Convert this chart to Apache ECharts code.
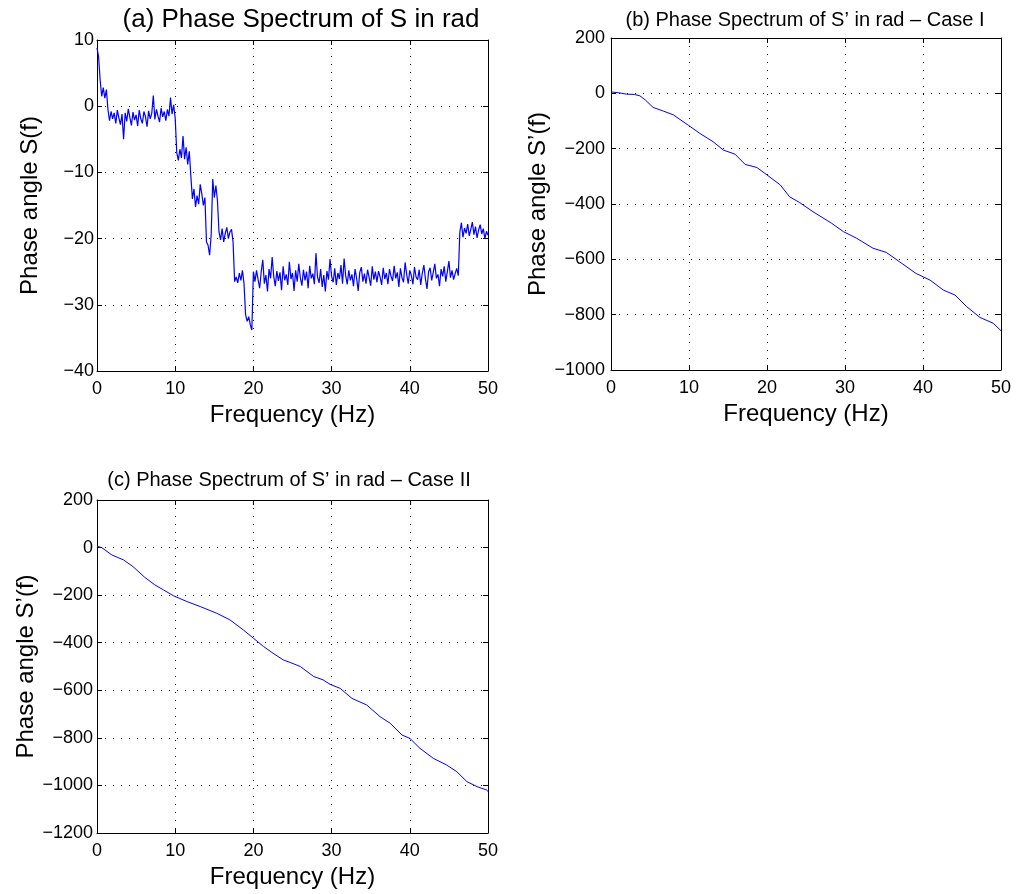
<!DOCTYPE html>
<html><head><meta charset="utf-8">
<script src="https://cdn.jsdelivr.net/npm/echarts@6/dist/echarts.min.js"></script>
<style>html,body{margin:0;padding:0;background:#fff}#c{width:1019px;height:894px}</style>
</head><body><div id="c"></div>
<script>
// (a) phase of S, sampled every 0.2 Hz from 0 to 50 Hz
const freqStepA = 0.2;
const phaseA = [
  8.8, 7.5, 4.0, 1.5, 2.8, 1.2, 2.5,
  -0.5, -2.2, -0.8, -1.9, -1.0, -2.6, -0.6, -1.8, -2.8, -1.2,
  -5.0, -1.0, -2.3, -0.4, -1.7, -2.9, -0.9, -2.1, -1.3, -3.0,
  -0.6, -1.9, -2.6, -0.8, -1.6, -3.1, -0.7, -1.9, -1.1, 1.6,
  -2.0, -0.5, -1.5, -2.4, -0.3, -1.6, -0.8, -2.2, -0.5, -1.5,
  1.3, -1.2, 0.2, -1.8,
  -7.0, -8.2, -6.5, -7.8, -4.5, -8.0, -6.2, -8.8, -6.8, -10.5,
  -14.0, -12.5, -15.2, -13.5, -14.8, -11.8, -13.2, -15.0, -13.8, -20.5,
  -21.0, -22.5, -19.5, -11.0, -13.8, -12.0, -14.2, -19.0, -20.2, -18.5,
  -20.5, -19.2, -18.3, -20.0, -19.0, -18.6, -20.5, -26.5, -25.8, -26.7,
  -25.2, -26.3, -24.8, -26.8, -31.5, -32.5, -31.8, -33.0, -33.8, -25.0,
  -26.5, -24.8, -26.2, -27.5, -25.0, -23.2, -26.8, -25.5, -28.0, -24.6,
  -26.0, -22.8, -25.7, -27.2, -24.9, -26.4, -25.1, -27.8, -24.2, -26.3,
  -25.4, -27.0, -23.5, -26.1, -25.2, -27.9, -24.8, -26.5, -23.8, -25.9,
  -27.1, -24.7, -26.3, -25.0, -27.5, -24.1, -26.0, -25.3, -26.9, -22.2,
  -25.8, -26.7, -24.6, -27.3, -25.5, -28.0, -24.9, -26.2, -23.1, -25.7,
  -26.6, -24.5, -27.0, -25.2, -26.1, -24.0, -26.8, -23.0, -25.6, -26.9,
  -24.8, -26.3, -25.4, -27.2, -24.6, -26.0, -27.9, -25.1, -24.3, -26.5,
  -25.3, -26.8, -24.7, -25.9, -27.1, -24.2, -26.2, -25.0, -26.6, -24.9,
  -25.8, -27.0, -24.4, -26.1, -25.2, -26.9, -24.6, -25.7, -26.4, -24.1,
  -26.0, -25.1, -27.3, -24.5, -25.9, -26.6, -23.6, -25.4, -26.8, -24.8,
  -25.6, -26.9, -24.3, -25.8, -26.2, -24.7, -27.0, -25.2, -24.0, -26.1,
  -27.6, -25.0, -24.4, -26.3, -25.1, -23.8, -26.0, -25.4, -27.2, -24.6,
  -25.7, -24.2, -26.5, -25.0, -23.4, -25.9, -24.8, -26.2, -25.3, -24.5,
  -25.6,
  -19.0, -17.6, -19.8, -18.4, -19.2, -17.8, -19.6, -18.6, -17.5, -19.4,
  -18.2, -19.9, -18.7, -17.9, -19.3, -18.5, -20.0, -18.9, -19.5
];

// (b) Case I
const freqB = [0, 1, 2, 3, 3.7, 4.4, 5.4, 6.7, 8.0, 9.9, 11.4, 13.1, 14.4, 15.9, 17.2, 18.7, 20.0, 21.7, 22.9, 24.2,
  25.9, 28.3, 29.8, 31.5, 33.6, 35.3, 37.0, 39.1, 40.9, 42.6, 44.1, 45.6, 47.3, 49.0, 50];
const phaseB = [5, 2, -3, -4, -9, -24, -51, -64, -78, -115, -145, -175, -205, -220, -257, -268, -295, -331, -374, -395,
  -428, -470, -500, -524, -560, -575, -609, -651, -675, -711, -729, -771, -810, -831, -858];

// (c) Case II
const freqC = [0, 0.6, 1.9, 3.4, 4.6, 6.1, 7.4, 8.5, 9.8, 11.5, 13.2, 15.3, 17.0, 18.7, 20.0, 21.3, 22.5, 23.8, 24.7,
  26.0, 27.7, 28.9, 29.8, 31.1, 32.6, 34.5, 36.2, 37.5, 39.0, 40.0, 41.3, 43.0, 44.7, 46.0, 47.3, 48.6, 49.8, 50];
const phaseC = [5, 0, -31, -52, -80, -125, -157, -178, -203, -227, -248, -276, -304, -346, -381, -416, -444, -472, -483,
  -500, -542, -556, -575, -592, -634, -662, -711, -739, -788, -802, -844, -886, -914, -942, -984, -1005, -1019, -1025];

const titles = ["(a) Phase Spectrum of S in rad", "(b) Phase Spectrum of S\u2019 in rad \u2013 Case I", "(c) Phase Spectrum of S\u2019 in rad \u2013 Case II"];
const xName = "Frequency (Hz)";
const yNames = ["Phase angle S(f)", "Phase angle S\u2019(f)", "Phase angle S\u2019(f)"];

const FONT = '"Liberation Sans", Arial, Helvetica, sans-serif';
const minus = v => String(v).replace('-', '\u2212');

const grids = [
  {left: 97, top: 40, width: 391, height: 331},
  {left: 611, top: 38, width: 390, height: 332},
  {left: 97, top: 500, width: 391, height: 333}
];
const yRanges = [[-40, 10, 10], [-1000, 200, 200], [-1200, 200, 200]];
const yGaps = [55, 58, 59];
const yMargins = [3, 6, 4];

const xAxes = [], yAxes = [], series = [];
const split = {show: true, lineStyle: {color: '#000', width: 1, type: [1, 7]}};
grids.forEach((g, i) => {
  const common = {type: 'value', gridIndex: i,
    axisLine: {show: true, onZero: false, lineStyle: {color: '#000', width: 1}},
    axisTick: {show: true, inside: true, length: 5, lineStyle: {color: '#000'}}};
  xAxes.push(Object.assign({}, common, {position: 'bottom', min: 0, max: 50, interval: 10,
    splitLine: split,
    axisLabel: {fontSize: 18, fontFamily: FONT, color: '#000', margin: 9, formatter: minus},
    name: xName, nameLocation: 'middle', nameGap: 32,
    nameTextStyle: {fontSize: 24, fontFamily: FONT, color: '#000'}}));
  xAxes.push(Object.assign({}, common, {position: 'top', min: 0, max: 50, interval: 10,
    splitLine: {show: false}, axisLabel: {show: false}}));
  const [ymin, ymax, yint] = yRanges[i];
  yAxes.push(Object.assign({}, common, {position: 'left', min: ymin, max: ymax, interval: yint,
    splitLine: split,
    axisLabel: {fontSize: 18, fontFamily: FONT, color: '#000', margin: yMargins[i], formatter: minus},
    name: yNames[i], nameLocation: 'middle', nameGap: yGaps[i], nameRotate: 90,
    nameTextStyle: {fontSize: 24, fontFamily: FONT, color: '#000'}}));
  yAxes.push(Object.assign({}, common, {position: 'right', min: ymin, max: ymax, interval: yint,
    splitLine: {show: false}, axisLabel: {show: false}}));
});

const dataA = phaseA.map((v, i) => [+(i * freqStepA).toFixed(1), v]);
const dataB = freqB.map((f, i) => [f, phaseB[i]]);
const dataC = freqC.map((f, i) => [f, phaseC[i]]);
const widths = [1.2, 1, 1];
[dataA, dataB, dataC].forEach((d, i) => {
  series.push({type: 'line', xAxisIndex: i * 2, yAxisIndex: i * 2, data: d,
    symbol: 'none', showSymbol: false, smooth: false,
    lineStyle: {color: '#0000ff', width: widths[i]}, animation: false, silent: true});
});

const titlePos = [[301, 20, 26], [805, 20, 20], [289, 480, 20]];
const graphic = titles.map((t, i) => ({type: 'text', x: titlePos[i][0], y: titlePos[i][1],
  style: {text: t, fontSize: titlePos[i][2], fontFamily: FONT, fill: '#000', align: 'center', verticalAlign: 'middle'}}));

const chart = echarts.init(document.getElementById('c'), null, {renderer: 'canvas'});
chart.setOption({animation: false, backgroundColor: '#fff', grid: grids, xAxis: xAxes, yAxis: yAxes, series, graphic});
</script></body></html>
